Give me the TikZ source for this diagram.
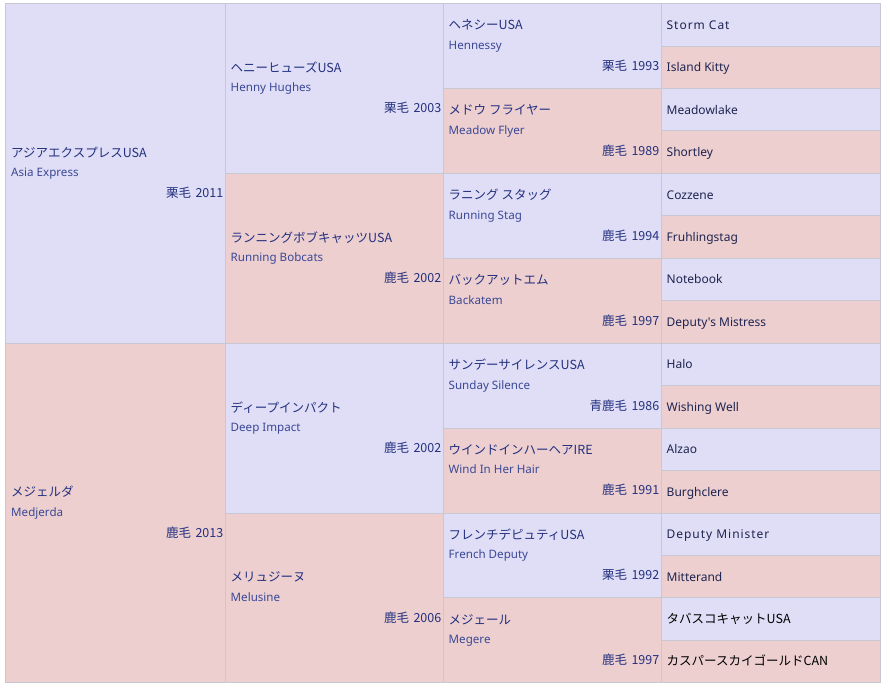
\documentclass[tikz,border=0pt]{standalone}
\usepackage{fontspec}
\setmainfont{Noto Sans CJK JP}
\newfontfamily\latinfont{Noto Sans}
\newfontfamily\spacedfont[LetterSpace=8]{Noto Sans}

\definecolor{sirebg}{HTML}{E0DEF6}
\definecolor{dambg}{HTML}{EDCFD0}
\definecolor{gridline}{HTML}{C8C8D4}
\definecolor{janame}{HTML}{23307E}
\definecolor{enname}{HTML}{3A4896}
\definecolor{leafname}{HTML}{1E2450}

\newcommand{\coatfont}{\fontsize{12.5}{14}\selectfont}
\newcommand{\coatgap}{\hspace{4.5pt}}

\tikzset{
  cellbox/.style={draw=gridline, line width=0.8pt},
  janame/.style={font=\fontsize{12.5}{14}\selectfont, text=janame, inner sep=0pt, anchor=base west},
  enname/.style={font=\latinfont\fontsize{11.6}{13}\selectfont, text=enname, inner sep=0pt, anchor=base west},
  coatyear/.style={font=\coatfont, text=janame, inner sep=0pt, anchor=base east},
  leafname/.style={font=\latinfont\fontsize{12}{13}\selectfont, text=leafname, inner sep=0pt, anchor=base west},
  leafspaced/.style={leafname, font=\spacedfont\fontsize{12}{13}\selectfont},
  leafja/.style={font=\fontsize{12.5}{14}\selectfont, text=black, inner sep=0pt, anchor=base west},
}

% id, left, right, first row, rows, fill, japanese, english, year (coat in \coat)
\newcommand{\horse}[9]{%
  \pgfmathsetmacro{\ytop}{3.5+42.45*#4}
  \pgfmathsetmacro{\ybot}{3.5+42.45*(#4+#5)}
  \pgfmathsetmacro{\ymid}{(\ytop+\ybot)/2}
  \filldraw[cellbox, fill=#6] (#2,\ytop) rectangle (#3,\ybot);
  \node[janame]   (#1)    at (#2+5.5, \ymid-16)   {#7};
  \node[enname]   (#1-en) at (#2+5.5, \ymid+3.5)  {#8};
  \node[coatyear] (#1-yr) at (#3-1.5, \ymid+24.5) {\coat\coatgap#9};
}

% id, row, fill, text style, name
\newcommand{\leaf}[5]{%
  \pgfmathsetmacro{\ytop}{3.5+42.45*#2}
  \pgfmathsetmacro{\ybot}{3.5+42.45*(#2+1)}
  \pgfmathsetmacro{\ymid}{(\ytop+\ybot)/2}
  \filldraw[cellbox, fill=#3] (661,\ytop) rectangle (880,\ybot);
  \node[#4] (#1) at (666.5, \ymid+4.5) {#5};
}

\begin{document}
\begin{tikzpicture}[x=1pt, y=-1pt]

  \useasboundingbox[fill=white] (0,0) rectangle (881,685);

  % Parents
  \def\coat{栗毛}
  \horse{s}{5.5}{225}{0}{8}{sirebg}{アジアエクスプレスUSA}{Asia Express}{2011}
  \def\coat{鹿毛}
  \horse{d}{5.5}{225}{8}{8}{dambg}{メジェルダ}{Medjerda}{2013}

  % Grandparents
  \def\coat{栗毛}
  \horse{ss}{225}{443}{0}{4}{sirebg}{ヘニーヒューズUSA}{Henny Hughes}{2003}
  \def\coat{鹿毛}
  \horse{sd}{225}{443}{4}{4}{dambg}{ランニングボブキャッツUSA}{Running Bobcats}{2002}
  \horse{ds}{225}{443}{8}{4}{sirebg}{ディープインパクト}{Deep Impact}{2002}
  \horse{dd}{225}{443}{12}{4}{dambg}{メリュジーヌ}{Melusine}{2006}

  % Great-grandparents
  \def\coat{栗毛}
  \horse{sss}{443}{661}{0}{2}{sirebg}{ヘネシーUSA}{Hennessy}{1993}
  \def\coat{鹿毛}
  \horse{ssd}{443}{661}{2}{2}{dambg}{メドウ フライヤー}{Meadow Flyer}{1989}
  \horse{sds}{443}{661}{4}{2}{sirebg}{ラニング スタッグ}{Running Stag}{1994}
  \horse{sdd}{443}{661}{6}{2}{dambg}{バックアットエム}{Backatem}{1997}
  \def\coat{青鹿毛}
  \horse{dss}{443}{661}{8}{2}{sirebg}{サンデーサイレンスUSA}{Sunday Silence}{1986}
  \def\coat{鹿毛}
  \horse{dsd}{443}{661}{10}{2}{dambg}{ウインドインハーヘアIRE}{Wind In Her Hair}{1991}
  \def\coat{栗毛}
  \horse{dds}{443}{661}{12}{2}{sirebg}{フレンチデピュティUSA}{French Deputy}{1992}
  \def\coat{鹿毛}
  \horse{ddd}{443}{661}{14}{2}{dambg}{メジェール}{Megere}{1997}

  % Great-great-grandparents
  \leaf{ssss}{0}{sirebg}{leafspaced}{Storm Cat}
  \leaf{sssd}{1}{dambg}{leafname}{Island Kitty}
  \leaf{ssds}{2}{sirebg}{leafname}{Meadowlake}
  \leaf{ssdd}{3}{dambg}{leafname}{Shortley}
  \leaf{sdss}{4}{sirebg}{leafname}{Cozzene}
  \leaf{sdsd}{5}{dambg}{leafname}{Fruhlingstag}
  \leaf{sdds}{6}{sirebg}{leafname}{Notebook}
  \leaf{sddd}{7}{dambg}{leafname}{Deputy's Mistress}
  \leaf{dsss}{8}{sirebg}{leafname}{Halo}
  \leaf{dssd}{9}{dambg}{leafname}{Wishing Well}
  \leaf{dsds}{10}{sirebg}{leafname}{Alzao}
  \leaf{dsdd}{11}{dambg}{leafname}{Burghclere}
  \leaf{ddss}{12}{sirebg}{leafspaced}{Deputy Minister}
  \leaf{ddsd}{13}{dambg}{leafname}{Mitterand}
  \leaf{ddds}{14}{sirebg}{leafja}{タバスコキャットUSA}
  \leaf{dddd}{15}{dambg}{leafja}{カスパースカイゴールドCAN}

\end{tikzpicture}
\end{document}
